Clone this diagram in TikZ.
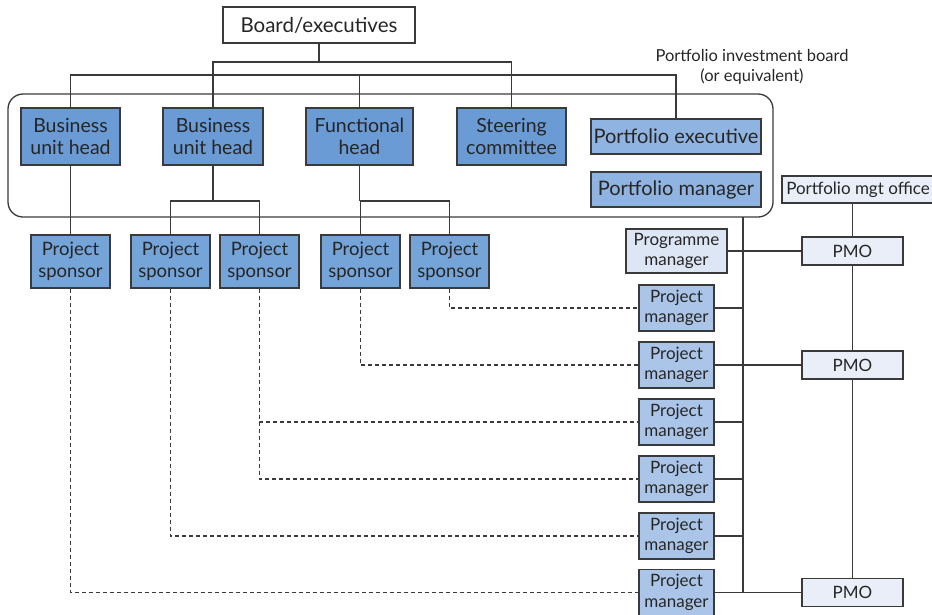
\documentclass[tikz,border=0pt]{standalone}
\usepackage{fontspec}
\setmainfont{Lato}
\definecolor{lineclr}{HTML}{3A3A3A}
\definecolor{darkblue}{HTML}{6A9BD4}
\definecolor{midblue}{HTML}{75A4D9}
\definecolor{portblue}{HTML}{90B4E2}
\definecolor{pmblue}{HTML}{ABC5E8}
\definecolor{progblue}{HTML}{DCE6F4}
\definecolor{pmoblue}{HTML}{E9EEF8}
\tikzset{
  box/.style={draw=lineclr, line width=1.4pt, rectangle, inner sep=0pt,
              align=center, text=black!85},
  headbox/.style={box, fill=darkblue, minimum width=#1, minimum height=57pt,
              font=\fontsize{19.5}{22.5}\selectfont},
  sponsorbox/.style={box, fill=midblue, minimum width=79pt, minimum height=53pt,
              font=\fontsize{18.5}{22}\selectfont},
  portbox/.style={box, fill=portblue, minimum width=170pt, minimum height=35pt,
              font=\fontsize{20}{22}\selectfont},
  mgrbox/.style={box, fill=pmblue, minimum width=75pt, minimum height=46pt,
              font=\fontsize{17}{20.5}\selectfont},
  pmobox/.style={box, fill=pmoblue, minimum width=101pt, minimum height=28pt,
              font=\fontsize{17}{20}\selectfont},
  link/.style={draw=lineclr, line width=1.3pt},
  dotlink/.style={draw=lineclr, line width=1.2pt, dash pattern=on 4pt off 3pt},
}
\begin{document}
\begin{tikzpicture}[x=1pt,y=-1pt]
\useasboundingbox (0,0) rectangle (932,614);

% investment board enclosure
\draw[lineclr, line width=1.3pt, rounded corners=15pt] (8,94) rectangle (773,217);
\node[font=\fontsize{16.5}{20}\selectfont, align=center, text=black!85] (pibl) at (752,67)
  {Portfolio investment board\\(or equivalent)};

% top level
\node[box, fill=white, minimum width=192pt, minimum height=36pt,
      font=\fontsize{20.5}{22}\selectfont] (board) at (319,25) {Board/executives};

\node[headbox=99pt]  (buh1) at (70.5,136.5)  {Business\\unit head};
\node[headbox=100pt] (buh2) at (213,136.5)   {Business\\unit head};
\node[headbox=107pt] (fh)   at (359.5,136.5) {Functional\\head};
\node[headbox=109pt] (sc)   at (511.5,136.5) {Steering\\committee};
\node[portbox] (pe) at (676,136.5) {Portfolio executive};
\node[portbox] (pfm) at (676,189.5) {Portfolio manager};

% sponsors
\node[sponsorbox] (ps1) at (70.5,261.5)  {Project\\sponsor};
\node[sponsorbox] (ps2) at (170.5,261.5) {Project\\sponsor};
\node[sponsorbox] (ps3) at (259.5,261.5) {Project\\sponsor};
\node[sponsorbox] (ps4) at (360.5,261.5) {Project\\sponsor};
\node[sponsorbox] (ps5) at (449.5,261.5) {Project\\sponsor};

% managers
\node[box, fill=progblue, minimum width=101pt, minimum height=44pt,
      font=\fontsize{17}{20.5}\selectfont] (prog) at (676.5,251) {Programme\\manager};
\node[mgrbox] (pm1) at (676.5,308) {Project\\manager};
\node[mgrbox] (pm2) at (676.5,365) {Project\\manager};
\node[mgrbox] (pm3) at (676.5,422) {Project\\manager};
\node[mgrbox] (pm4) at (676.5,479) {Project\\manager};
\node[mgrbox] (pm5) at (676.5,536) {Project\\manager};
\node[mgrbox] (pm6) at (676.5,592.5) {Project\\manager};

% portfolio management office and PMOs
\node[pmobox, minimum width=152pt, minimum height=27pt] (pmgt) at (858,189.5) {Portfolio mgt office};
\node[pmobox] (pmo1) at (852.5,251) {PMO};
\node[pmobox] (pmo2) at (852.5,365) {PMO};
\node[pmobox] (pmo3) at (852.5,592.5) {PMO};

% board connectors
\coordinate (busA) at (0,62);
\coordinate (busB) at (0,75);
\draw[link] (board.south) -- (board.south |- busA);
\draw[link] (buh2.north) -- (buh2.north |- busA) -- (sc.north |- busA) -- (sc.north);
\draw[link] (buh1.north) -- (buh1.north |- busB) -- (pe.north |- busB) -- (pe.north);
\draw[link] (fh.north) -- (fh.north |- busB);

% heads to sponsors
\coordinate (split) at (0,201);
\draw[link] (buh1.south) -- (ps1.north);
\draw[link] (buh2.south) -- (buh2.south |- split);
\draw[link] (ps2.north) -- (ps2.north |- split) -- (ps3.north |- split) -- (ps3.north);
\draw[link] (fh.south) -- (fh.south |- split);
\draw[link] (ps4.north) -- (ps4.north |- split) -- (ps5.north |- split) -- (ps5.north);

% sponsors to project managers
\draw[dotlink] (ps5.south) |- (pm1.west);
\draw[dotlink] (ps4.south) |- (pm2.west);
\draw[dotlink] (ps3.south) |- (pm3.west);
\draw[dotlink] (ps3.south) |- (pm4.west);
\draw[dotlink] (ps2.south) |- (pm5.west);
\draw[dotlink] (ps1.south) |- (pm6.west);

% portfolio manager bus
\coordinate (bustop) at (743,217);
\draw[link] (bustop) -- (bustop |- pm6.east);
\draw[link] (prog.east) -- (pmo1.west);
\draw[link] (pm1.east) -- (bustop |- pm1.east);
\draw[link] (pm2.east) -- (pmo2.west);
\draw[link] (pm3.east) -- (bustop |- pm3.east);
\draw[link] (pm4.east) -- (bustop |- pm4.east);
\draw[link] (pm5.east) -- (bustop |- pm5.east);
\draw[link] (pm6.east) -- (pmo3.west);

% PMO chain
\draw[link] (pmo1.north |- pmgt.south) -- (pmo1.north);
\draw[link] (pmo1.south) -- (pmo2.north);
\draw[link] (pmo2.south) -- (pmo3.north);
\end{tikzpicture}
\end{document}
